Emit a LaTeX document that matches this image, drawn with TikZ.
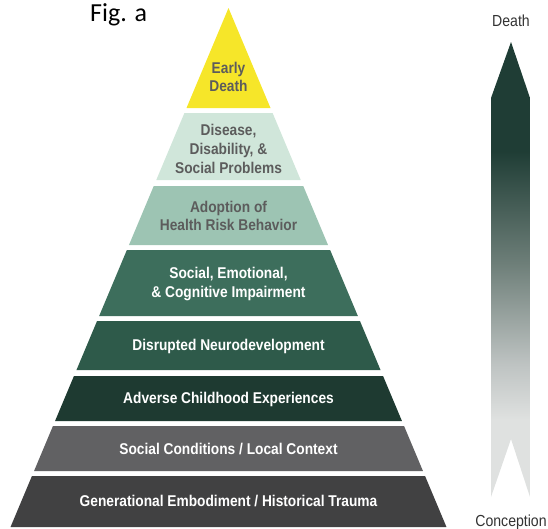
\documentclass[tikz,border=0pt]{standalone}
\usepackage{fontspec}
\setsansfont{Liberation Sans}[FakeStretch=0.88]
\newfontfamily\figfont{Carlito}

\definecolor{earlyyellow}{HTML}{F6E629}
\definecolor{diseasepale}{HTML}{D0E6DA}
\definecolor{adoptionsage}{HTML}{9DC4B3}
\definecolor{impairgreen}{HTML}{3D6E5C}
\definecolor{neurogreen}{HTML}{2E5A4A}
\definecolor{acedark}{HTML}{1E3A31}
\definecolor{contextgrey}{HTML}{616163}
\definecolor{traumagrey}{HTML}{414142}
\definecolor{labelgrey}{HTML}{5C5C5C}
\definecolor{spandark}{HTML}{1F3D35}
\definecolor{spanmid}{HTML}{6E7F79}
\definecolor{spanpale}{HTML}{BEC3C2}
\definecolor{spanlight}{HTML}{DFE1E0}

\pgfdeclareverticalshading{lifespan}{100bp}{color(0bp)=(spanlight); color(33.5bp)=(spanlight); color(39.6bp)=(spanpale); color(50.6bp)=(spanmid); color(63bp)=(spandark); color(100bp)=(spandark)}

% one slice of the pyramid: top, bottom, fill
\newcommand{\pyramidlayer}[3]{%
  \fill[#3] ({228.5-0.42*(#1-8)},#1) -- ({228.5+0.42*(#1-8)},#1)
    -- ({228.5+0.42*(#2-8)},#2) -- ({228.5-0.42*(#2-8)},#2) -- cycle;}

\tikzset{
  layertext/.style={font=\sffamily\bfseries\fontsize{15.6}{18.8}\selectfont, align=center},
  lightlayer/.style={layertext, text=labelgrey},
  darklayer/.style={layertext, text=white},
  spanlabel/.style={font=\sffamily\fontsize{16}{18}\selectfont, text=black!80}
}

\begin{document}
\begin{tikzpicture}[x=1pt,y=-1pt]%[show background grid]
    \useasboundingbox (0,0) rectangle (548,528);

    \node[anchor=base west, inner sep=0pt, font=\figfont\fontsize{26}{28}\selectfont] (figlabel) at (90,21) {Fig. a};

    \pyramidlayer{8}{108}{earlyyellow}
    \pyramidlayer{113}{180}{diseasepale}
    \pyramidlayer{186}{245}{adoptionsage}
    \pyramidlayer{250}{316}{impairgreen}
    \pyramidlayer{321}{370}{neurogreen}
    \pyramidlayer{376}{421}{acedark}
    \pyramidlayer{426}{471}{contextgrey}
    \pyramidlayer{476}{527}{traumagrey}

    \node[lightlayer] (earlydeath) at (228.5,77) {Early\\Death};
    \node[lightlayer] (disease) at (228.5,149) {Disease,\\Disability, \&\\Social Problems};
    \node[lightlayer] (adoption) at (228.5,216) {Adoption of\\Health Risk Behavior};
    \node[darklayer] (impairment) at (228.5,284) {Social, Emotional,\\\& Cognitive Impairment};
    \node[darklayer] (neuro) at (228.5,346) {Disrupted Neurodevelopment};
    \node[darklayer] (aces) at (228.5,399) {Adverse Childhood Experiences};
    \node[darklayer] (context) at (228.5,449) {Social Conditions / Local Context};
    \node[darklayer] (trauma) at (228.5,501) {Generational Embodiment / Historical Trauma};

    % life course arrow
    \shade[shading=lifespan] (511,42) -- (530,98) -- (530,497) -- (511,439)
      -- (491,497) -- (491,98) -- cycle;
    \node[spanlabel] (death) at (511,21) {Death};
    \node[spanlabel, anchor=base] (conception) at (511,526) {Conception};

\end{tikzpicture}
\end{document}
